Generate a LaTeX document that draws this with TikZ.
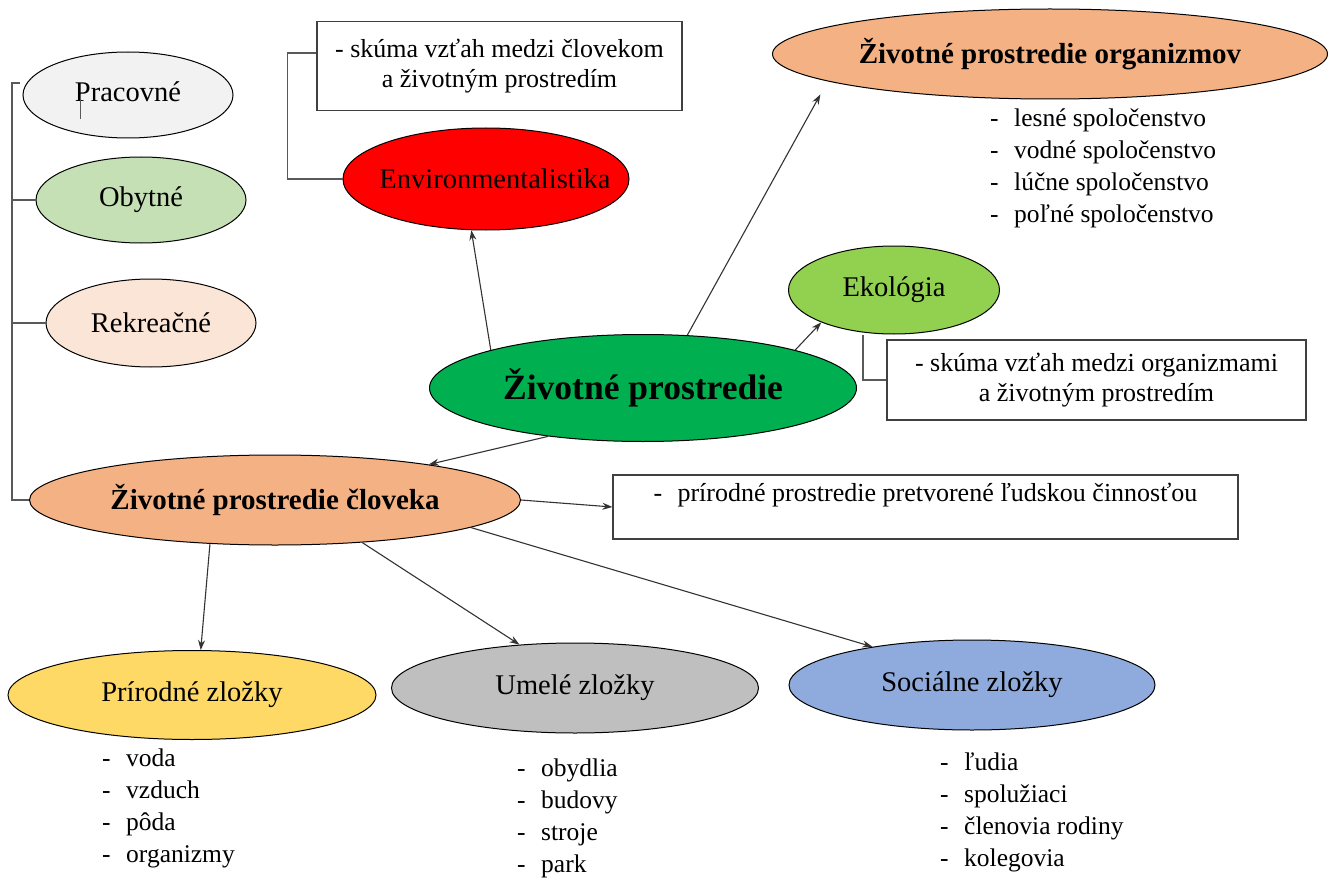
\documentclass[tikz,border=0pt]{standalone}
\usepackage{fontspec}
\setmainfont{Liberation Serif}
\usetikzlibrary{shapes.geometric,arrows.meta}

\definecolor{pracgray}{HTML}{F2F2F2}
\definecolor{obytgreen}{HTML}{C5E0B4}
\definecolor{rekrpink}{HTML}{FBE5D6}
\definecolor{salmon}{HTML}{F4B183}
\definecolor{envred}{HTML}{FF0000}
\definecolor{ekogreen}{HTML}{92D050}
\definecolor{zpgreen}{HTML}{00B050}
\definecolor{prirgold}{HTML}{FFD966}
\definecolor{umelgray}{HTML}{BFBFBF}
\definecolor{socblue}{HTML}{8FAADC}

\newcommand{\ovalfont}{\fontsize{28.5}{32}\selectfont}
\newcommand{\boldovalfont}{\fontsize{29}{32}\selectfont\bfseries}
\newcommand{\centrefont}{\fontsize{35.5}{40}\selectfont\bfseries}
\newcommand{\boxfont}{\fontsize{26}{30}\selectfont}
\newcommand{\listfont}{\fontsize{25.5}{32}\selectfont}
\newcommand{\dashitem}[1]{\makebox[24pt][l]{-}#1}

\tikzstyle{oval} = [ellipse, draw=black, line width=1pt, inner sep=0pt, font=\ovalfont]
\tikzstyle{infobox} = [rectangle, draw=black!75, line width=1.2pt, align=center, inner sep=0pt, font=\boxfont]
\tikzstyle{itemlist} = [align=left, inner sep=0pt, anchor=north west, font=\listfont]
\tikzstyle{arrow} = [line width=1.1pt, draw=black!80, ->, >={Stealth[length=10pt,width=7pt]}]
\tikzstyle{bracket} = [line width=1.3pt, draw=black!65]

\begin{document}
\begin{tikzpicture}[x=1pt, y=-1pt]
\useasboundingbox (0,0) rectangle (1331,880);

% left column
\node (prac) [oval, fill=pracgray, minimum width=210pt, minimum height=86pt] at (128,95) {\raisebox{6pt}{Pracovné}};
\node (obyt) [oval, fill=obytgreen, minimum width=210pt, minimum height=86pt] at (141,200) {Obytné};
\node (rekr) [oval, fill=rekrpink, minimum width=210pt, minimum height=88pt] at (151,323) {Rekreačné};
\node (zpc) [oval, fill=salmon, font=\boldovalfont, minimum width=491pt, minimum height=90pt] at (275,500) {Životné prostredie človeka};

% top
\node (box1) [infobox, minimum width=365pt, minimum height=89pt] at (499.5,66) {- skúma vzťah medzi človekom\\a životným prostredím};
\node (env) [oval, fill=envred, minimum width=286pt, minimum height=102pt,
  label={[font=\ovalfont, xshift=9pt]center:Environmentalistika}] at (486,179) {};
\node (org) [oval, fill=salmon, font=\boldovalfont, minimum width=555pt, minimum height=90pt] at (1050,54) {Životné prostredie organizmov};
\node (orglist) [itemlist] at (990,109) {\dashitem{lesné spoločenstvo}\\\dashitem{vodné spoločenstvo}\\\dashitem{lúčne spoločenstvo}\\\dashitem{poľné spoločenstvo}};

% middle
\node (zp) [oval, fill=zpgreen, font=\centrefont, minimum width=427pt, minimum height=107pt] at (643,388) {Životné prostredie};
\node (eko) [oval, fill=ekogreen, minimum width=211pt, minimum height=88pt] at (894,290) {Ekológia};
\node (box2) [infobox, minimum width=419pt, minimum height=80pt] at (1096.5,380) {- skúma vzťah medzi organizmami\\a životným prostredím};
\node (box3) [infobox, align=left, minimum width=625pt, minimum height=64pt] at (925.5,507) {\dashitem{prírodné prostredie pretvorené ľudskou činnosťou}\\ \mbox{}};

% bottom
\node (prir) [oval, fill=prirgold, minimum width=368pt, minimum height=89pt] at (192,695) {Prírodné zložky};
\node (umel) [oval, fill=umelgray, minimum width=367pt, minimum height=90pt] at (575,688) {Umelé zložky};
\node (soc) [oval, fill=socblue, minimum width=366pt, minimum height=90pt] at (972,685) {Sociálne zložky};
\node (prirlist) [itemlist] at (102,749) {\dashitem{voda}\\\dashitem{vzduch}\\\dashitem{pôda}\\\dashitem{organizmy}};
\node (umellist) [itemlist] at (517,759) {\dashitem{obydlia}\\\dashitem{budovy}\\\dashitem{stroje}\\\dashitem{park}};
\node (soclist) [itemlist] at (940,753) {\dashitem{ľudia}\\\dashitem{spolužiaci}\\\dashitem{členovia rodiny}\\\dashitem{kolegovia}};

% brackets
\coordinate (bar) at ([xshift=-17pt]zpc.west);
\draw [bracket] ([xshift=-3pt,yshift=12pt]prac.west) -| (bar) -- (zpc.west);
\draw [bracket] (obyt.west) -- (obyt.west -| bar);
\draw [bracket] (rekr.west) -- (rekr.west -| bar);
\draw [bracket, line width=0.8pt] ([xshift=-48pt]prac.center) -- ++(0,24);
\draw [bracket] ([yshift=13pt]box1.west) -- ++(-29,0) |- (env.west);
\draw [bracket] ([xshift=-31pt]eko.south) |- (box2.west);

% arrows
\draw [arrow] (zp.166) -- (env.254);
\draw [arrow, shorten >=15pt] (zp.50) -- (org.187);
\draw [arrow] (zp.14) -- (eko.204);
\draw [arrow] (zp.207) -- (zpc.13);
\draw [arrow] (zpc.east) -- (box3.west);
\draw [arrow] (zpc.214) -- (prir.79);
\draw [arrow] (zpc.334) -- (umel.142);
\draw [arrow] (zpc.352) -- (soc.159);
\end{tikzpicture}
\end{document}
